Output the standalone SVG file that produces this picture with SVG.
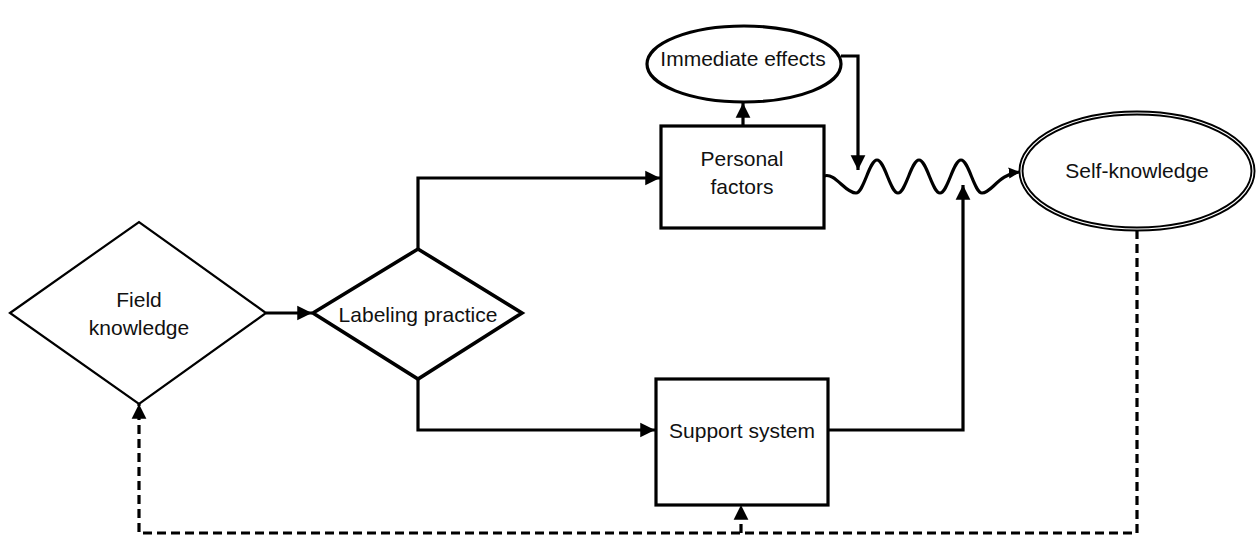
<svg xmlns="http://www.w3.org/2000/svg" width="1257" height="538" viewBox="0 0 1257 538">
<style>
text{font-family:"Liberation Sans",Arial,sans-serif;font-size:21px;fill:#111;text-anchor:middle}
.n{fill:#fff;stroke:#000;stroke-width:3.2}
.c{fill:none;stroke:#000;stroke-width:3.2}
.d{fill:none;stroke:#000;stroke-width:3.2;stroke-dasharray:9 5}
</style>
<defs>
<marker id="a" viewBox="0 0 10 10" refX="10" refY="5" markerWidth="4.6" markerHeight="4.8" markerUnits="strokeWidth" orient="auto"><path d="M0,0L10,5L0,10z" fill="#000"/></marker>
<marker id="s" viewBox="0 0 10 10" refX="10" refY="5" markerWidth="3.5" markerHeight="3.5" markerUnits="strokeWidth" orient="auto"><path d="M0,0L10,5L0,10z" fill="#000"/></marker>
</defs>
<g id="connectors">
<path class="c" d="M266,313H312" marker-end="url(#a)"/>
<path class="c" d="M418,249V178H660" marker-end="url(#a)"/>
<path class="c" d="M418,379V430H655" marker-end="url(#a)"/>
<path class="c" d="M743,126V103" marker-end="url(#a)"/>
<path class="c" d="M841,56H858V170" marker-end="url(#a)"/>
<path class="c" d="M828,430H963V185" marker-end="url(#a)"/>
<path class="c" d="M824,176C835,172 845,193 856,193C863.6,193 869.4,160 877,160C884.6,160 890.4,193 898,193C905.6,193 911.4,160 919,160C926.6,160 932.4,193 940,193C947.6,193 953.4,160 961,160C968.6,160 974.4,193 982,193C992,193 998,174 1020,172" marker-end="url(#s)"/>
<path class="d" d="M1137,230V533H139V404" marker-end="url(#a)"/>
<path class="d" d="M741,533V505" marker-end="url(#a)"/>
</g>
<g id="field-knowledge">
<path d="M10,313L139,222L266,313L139,404z" fill="#fff" stroke="#000" stroke-width="2.2"/>
<text x="139" y="307">Field</text>
<text x="139" y="335">knowledge</text>
</g>
<g id="labeling-practice">
<path d="M313,313L418,249L522,313L418,379z" fill="#fff" stroke="#000" stroke-width="3.6"/>
<text x="418" y="322">Labeling practice</text>
</g>
<g id="personal-factors">
<rect class="n" x="661" y="126" width="163" height="102"/>
<text x="742" y="166">Personal</text>
<text x="742" y="194">factors</text>
</g>
<g id="immediate-effects">
<ellipse class="n" cx="744" cy="64" rx="97" ry="38"/>
<text x="743" y="66">Immediate effects</text>
</g>
<g id="support-system">
<rect class="n" x="656" y="379" width="172" height="126"/>
<text x="742" y="438">Support system</text>
</g>
<g id="self-knowledge">
<ellipse cx="1137" cy="171" rx="116" ry="58" fill="#fff" stroke="#000" stroke-width="5"/>
<ellipse cx="1137" cy="171" rx="116" ry="58" fill="none" stroke="#fff" stroke-width="1.2"/>
<text x="1137" y="178">Self-knowledge</text>
</g>
</svg>
